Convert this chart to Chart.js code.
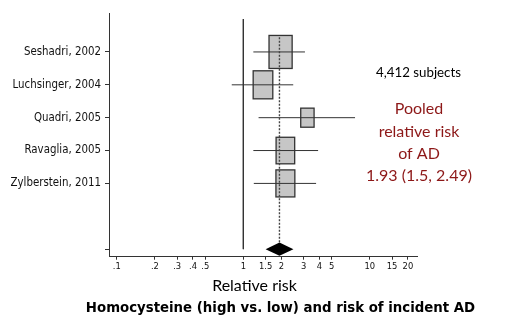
<!DOCTYPE html>
<html><head><meta charset="utf-8">
<style>html,body{margin:0;padding:0;background:#fff;overflow:hidden}</style>
<script src="https://cdn.jsdelivr.net/npm/chart.js@4.4.1/dist/chart.umd.min.js"></script>
</head><body>
<canvas id="c" width="514" height="335"></canvas>
<script>
const studies = ['Seshadri, 2002', 'Luchsinger, 2004', 'Quadri, 2005', 'Ravaglia, 2005', 'Zylberstein, 2011'];
const rr = [1.97, 1.43, 3.21, 2.15, 2.15];
const ciLow = [1.20, 0.81, 1.32, 1.20, 1.21];
const ciHigh = [3.07, 2.48, 7.64, 3.90, 3.76];
const weights = [29.7, 21.4, 9.9, 19.2, 19.9];
const pooledRR = 1.93;
const pooledLow = 1.5;
const pooledHigh = 2.49;
const pooledRow = 7;
const xTickValues = [0.1, 0.2, 0.3, 0.4, 0.5, 1, 1.5, 2, 3, 4, 5, 10, 15, 20];
const xTickLabels = ['.1', '.2', '.3', '.4', '.5', '1', '1.5', '2', '3', '4', '5', '10', '15', '20'];
const yTickRows = [1, 2, 3, 4, 5, 7];
const nullValue = 1;
const xTitle = 'Relative risk';
const mainTitle = 'Homocysteine (high vs. low) and risk of incident AD';
const noteSubjects = '4,412 subjects';
const notePooled = ['Pooled', 'relative risk', 'of AD', '1.93 (1.5, 2.49)'];

const NARROW = "'DejaVu Sans Condensed', 'Liberation Sans', Arial, sans-serif";
const CAL = "Lato, 'Open Sans', sans-serif";
const LINE = '#333';

const forestPlugin = {
  id: 'forest',
  beforeDatasetsDraw(chart) {
    const {ctx, scales: {x, y}} = chart;
    ctx.save();
    rr.forEach((v, i) => {
      const h = 6.06 * Math.sqrt(weights[i]);
      const w = h * 0.7;
      const cx = x.getPixelForValue(v), cy = y.getPixelForValue(i + 1);
      ctx.fillStyle = '#c6c6c6';
      ctx.fillRect(cx - w / 2, cy - h / 2, w, h);
      ctx.strokeStyle = LINE;
      ctx.lineWidth = 1.3;
      ctx.strokeRect(cx - w / 2, cy - h / 2, w, h);
    });
    ctx.restore();
  },
  afterDatasetsDraw(chart) {
    const {ctx, scales: {x, y}} = chart;
    const cy = y.getPixelForValue(pooledRow);
    ctx.save();
    ctx.fillStyle = '#000';
    ctx.beginPath();
    ctx.moveTo(x.getPixelForValue(pooledLow), cy);
    ctx.lineTo(x.getPixelForValue(pooledRR), cy - 6.7);
    ctx.lineTo(x.getPixelForValue(pooledHigh), cy);
    ctx.lineTo(x.getPixelForValue(pooledRR), cy + 6.7);
    ctx.closePath();
    ctx.fill();
    ctx.restore();
  },
  afterDraw(chart) {
    const {ctx} = chart;
    ctx.save();
    ctx.textAlign = 'center';
    ctx.textBaseline = 'middle';
    ctx.fillStyle = '#000';
    ctx.font = "16px " + CAL;
    ctx.fillText(xTitle, 254.5, 286);
    ctx.font = "bold 14.8px " + NARROW;
    ctx.fillText(mainTitle, 280.5, 308.5);
    ctx.font = "13.3px " + CAL;
    ctx.fillText(noteSubjects, 418.5, 73);
    ctx.fillStyle = '#8d1818';
    ctx.font = "16px " + CAL;
    notePooled.forEach((t, i) => ctx.fillText(t, 419, 109 + i * 22.4));
    ctx.restore();
  }
};

const datasets = [
  {data: [{x: nullValue, y: 0}, {x: nullValue, y: pooledRow}], borderColor: LINE, borderWidth: 1},
  {data: [{x: pooledRR, y: 0.55}, {x: pooledRR, y: pooledRow}], borderColor: '#444', borderWidth: 1.4, borderDash: [2, 1.5]}
].concat(studies.map((s, i) => ({
  label: s,
  data: [{x: ciLow[i], y: i + 1}, {x: ciHigh[i], y: i + 1}],
  borderColor: LINE, borderWidth: 1
})));
datasets.forEach(d => { d.showLine = true; d.pointRadius = 0; d.fill = false; });

new Chart(document.getElementById('c'), {
  type: 'scatter',
  data: {datasets},
  options: {
    responsive: false,
    devicePixelRatio: 1,
    animation: false,
    layout: {padding: {top: 13.3, right: 97, left: 0, bottom: 0}},
    plugins: {legend: {display: false}, tooltip: {enabled: false}, title: {display: false}},
    scales: {
      x: {
        type: 'logarithmic',
        min: 0.0867, max: 23.6,
        afterFit(s) { s.height = 78.3; },
        afterBuildTicks(s) { s.ticks = xTickValues.map(v => ({value: v})); },
        ticks: {
          autoSkip: false, maxRotation: 0, padding: 1,
          color: '#111',
          font: {family: NARROW, size: 9.3},
          callback: (v, i) => xTickLabels[i]
        },
        grid: {drawOnChartArea: false, tickLength: 3, color: LINE},
        border: {color: LINE, width: 1}
      },
      y: {
        type: 'linear',
        reverse: true,
        min: -0.176, max: 7.23,
        afterFit(s) { s.width = 109; },
        afterBuildTicks(s) { s.ticks = yTickRows.map(v => ({value: v})); },
        ticks: {
          autoSkip: false, padding: 4,
          color: '#111',
          font: {family: NARROW, size: 11.4},
          callback: (v) => studies[v - 1] || ''
        },
        grid: {drawOnChartArea: false, tickLength: 4, color: LINE},
        border: {color: LINE, width: 1}
      }
    }
  },
  plugins: [forestPlugin]
});
</script>
</body></html>
